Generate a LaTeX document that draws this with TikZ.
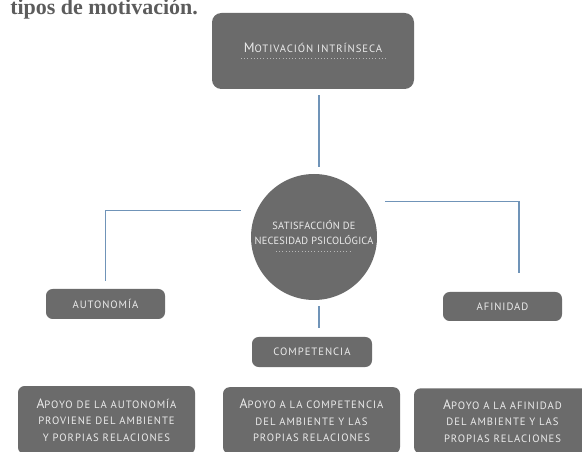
\documentclass[tikz,border=0pt]{standalone}
\usepackage{fontspec}
\setmainfont{Liberation Serif}
\newfontfamily\capsfont[LetterSpace=9]{PT Sans}
\usetikzlibrary{positioning, calc}
\definecolor{boxgray}{HTML}{6B6B6B}
\definecolor{capgray}{HTML}{EBEBEB}
\definecolor{linkblue}{HTML}{7094B8}
\definecolor{titlegray}{HTML}{5C5C5C}
\newcommand{\bigini}[1]{{\fontsize{10.2}{10}\selectfont #1}}

\begin{document}
\begin{tikzpicture}[
  x=0.75pt, y=-0.75pt,
  every node/.style={font=\capsfont\fontsize{8}{12.4}\selectfont, text=capgray},
  card/.style={fill=boxgray, rounded corners=5pt, align=center, inner sep=0pt},
  link/.style={draw=linkblue, line width=1.1pt},
  dotline/.style={draw=capgray!60!boxgray, dotted, line width=0.4pt}
]
\useasboundingbox (0,0) rectangle (582,452);
\clip (0,0) rectangle (582,452);

% Heading, cut at the top
\node[anchor=base west, inner sep=0pt, text=titlegray,
  font=\rmfamily\bfseries\fontsize{16.5}{18}\selectfont] (title) at (10,14.5)
  {tipos de motivación.};

% Top box
\node[card, rounded corners=7pt, minimum width=151.5pt, minimum height=57pt, text depth=4.5pt]
  (motiv) at (313,51) {\bigini{M}OTIVACIÓN\ INTRÍNSECA};
\draw[dotline] ($(motiv.center)+(-72,7)$) -- ++(145,0);

% Centre circle
\node[circle, fill=boxgray, minimum size=94.5pt, inner sep=0pt] (nec) at (314,237) {};
\node[align=center, font=\capsfont\addfontfeature{LetterSpace=2}\fontsize{7.8}{11.2}\selectfont]
  (nectext) at (314,232.5) {SATISFACCIÓN DE\\NECESIDAD PSICOLÓGICA};
\draw[dotline] ($(nec.center)+(-38,14)$) -- ++(74,0);

% Needs
\node[card, minimum width=89.25pt, minimum height=22.5pt] (auto) at (105.5,304) {AUTONOMÍA};
\node[card, minimum width=90pt, minimum height=22.5pt] (comp) at (312,352) {COMPETENCIA};
\node[card, minimum width=89.25pt, minimum height=21.75pt] (afin) at (502.5,306.5) {AFINIDAD};

% Support boxes, cut at the bottom
\node[card, minimum width=132.75pt, minimum height=51pt] (apauto) at (106.5,420)
  {\bigini{A}POYO DE LA AUTONOMÍA\\PROVIENE DEL AMBIENTE\\Y PORPIAS RELACIONES};
\node[card, minimum width=132.75pt, minimum height=50pt] (apcomp) at (311.5,420.5)
  {\bigini{A}POYO A LA COMPETENCIA\\DEL AMBIENTE Y LAS\\PROPIAS RELACIONES};
\node[card, minimum width=132.75pt, minimum height=49pt] (apafin) at (502.5,421)
  {\bigini{A}POYO A LA AFINIDAD\\DEL AMBIENTE Y LAS\\PROPIAS RELACIONES};

% Connectors
\draw[link] ($(motiv.south)+(6,6)$) -- ($(nec.north)+(5,-7)$);
\draw[link] ($(nec.155)+(-16,0)$) -| ($(auto.north)+(0,-8)$);
\draw[link] ($(nec.34)+(19,0)$) -| ($(afin.north)+(16.5,-19)$);
\draw[link] ($(nec.south)+(5,6)$) -- ($(nec.south |- comp.north)+(5,-9)$);

\end{tikzpicture}
\end{document}
